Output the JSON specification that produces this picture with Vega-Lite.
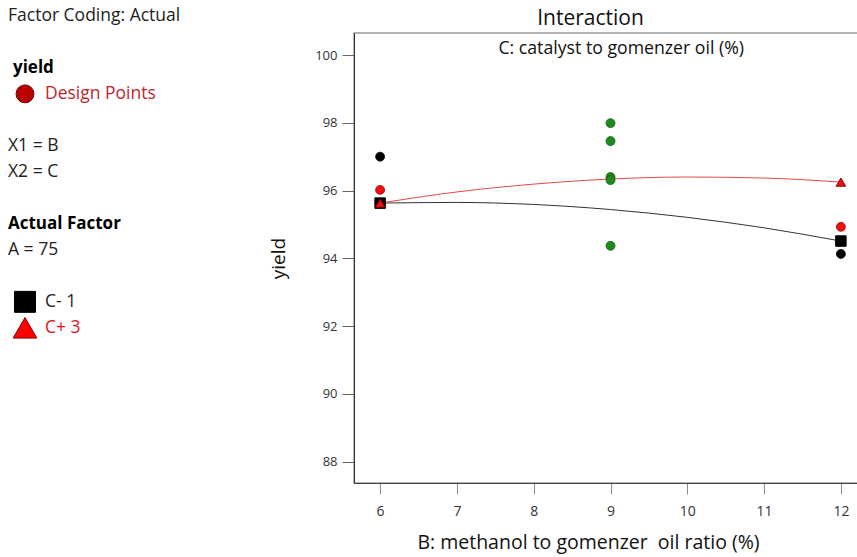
{
  "$schema": "https://vega.github.io/schema/vega-lite/v6.json",
  "padding": {"left": 0, "top": 6, "right": 0, "bottom": 0},
  "background": "white",
  "spacing": 18,
  "config": {
    "font": "Open Sans",
    "view": {"stroke": null},
    "axis": {"grid": false}
  },
  "datasets": {
    "legend": [
      {"line": 0, "col": 0.4, "text": "Factor Coding: Actual", "kind": "plain"},
      {"line": 2, "col": 0.65, "text": "yield", "kind": "bold"},
      {"line": 3, "col": 2.25, "text": "Design Points", "kind": "darkred"},
      {"line": 5, "col": 0.4, "text": "X1 = B", "kind": "plain"},
      {"line": 6, "col": 0.4, "text": "X2 = C", "kind": "plain"},
      {"line": 8, "col": 0.4, "text": "Actual Factor", "kind": "bold"},
      {"line": 9, "col": 0.4, "text": "A = 75", "kind": "plain"},
      {"line": 11, "col": 2.25, "text": "C- 1", "kind": "plain"},
      {"line": 12, "col": 2.25, "text": "C+ 3", "kind": "red"}
    ],
    "legendSymbols": [
      {"line": 3, "col": 1.25, "sym": "circle", "grp": "design"},
      {"line": 11, "col": 1.25, "sym": "square", "grp": "low"},
      {"line": 12, "col": 1.25, "sym": "triangle-up", "grp": "high"}
    ],
    "points": [
      {"B": 6, "yield": 97.0, "grp": "C- 1"},
      {"B": 6, "yield": 96.02, "grp": "C+ 3"},
      {"B": 9, "yield": 97.99, "grp": "center"},
      {"B": 9, "yield": 97.46, "grp": "center"},
      {"B": 9, "yield": 96.4, "grp": "center"},
      {"B": 9, "yield": 96.31, "grp": "center"},
      {"B": 9, "yield": 94.37, "grp": "center"},
      {"B": 12, "yield": 94.93, "grp": "C+ 3"},
      {"B": 12, "yield": 94.13, "grp": "C- 1"}
    ],
    "curves": [
      {"B": 6, "yield": 95.63, "series": "C- 1"},
      {"B": 7, "yield": 95.65, "series": "C- 1"},
      {"B": 8, "yield": 95.59, "series": "C- 1"},
      {"B": 9, "yield": 95.44, "series": "C- 1"},
      {"B": 10, "yield": 95.21, "series": "C- 1"},
      {"B": 11, "yield": 94.9, "series": "C- 1"},
      {"B": 12, "yield": 94.51, "series": "C- 1"},
      {"B": 6, "yield": 95.63, "series": "C+ 3"},
      {"B": 7, "yield": 95.96, "series": "C+ 3"},
      {"B": 8, "yield": 96.19, "series": "C+ 3"},
      {"B": 9, "yield": 96.34, "series": "C+ 3"},
      {"B": 10, "yield": 96.4, "series": "C+ 3"},
      {"B": 11, "yield": 96.37, "series": "C+ 3"},
      {"B": 12, "yield": 96.25, "series": "C+ 3"}
    ],
    "ends": [
      {"B": 6, "yield": 95.63, "series": "C- 1"},
      {"B": 12, "yield": 94.51, "series": "C- 1"},
      {"B": 6, "yield": 95.63, "series": "C+ 3"},
      {"B": 12, "yield": 96.25, "series": "C+ 3"}
    ]
  },
  "hconcat": [
    {
      "width": 250,
      "height": 546,
      "view": {"stroke": null},
      "resolve": {"scale": {"color": "independent", "fill": "independent", "stroke": "independent"}},
      "layer": [
        {
          "data": {"name": "legend"},
          "transform": [{"filter": "datum.kind !== 'bold'"}],
          "mark": {"type": "text", "align": "left", "baseline": "middle", "fontSize": 17.5},
          "encoding": {
            "x": {"field": "col", "type": "quantitative", "scale": {"domain": [0, 12.5], "nice": false, "zero": false}, "axis": null},
            "y": {"field": "line", "type": "quantitative", "scale": {"domain": [0.66, 21.66], "nice": false, "zero": false, "reverse": true}, "axis": null},
            "text": {"field": "text"},
            "color": {"field": "kind", "type": "nominal", "scale": {"domain": ["plain", "darkred", "red"], "range": ["#222222", "#c0262d", "#e8101a"]}, "legend": null}
          }
        },
        {
          "data": {"name": "legend"},
          "transform": [{"filter": "datum.kind === 'bold'"}],
          "mark": {"type": "text", "align": "left", "baseline": "middle", "fontSize": 17, "fontWeight": "bold", "color": "#000000"},
          "encoding": {
            "x": {"field": "col", "type": "quantitative"},
            "y": {"field": "line", "type": "quantitative"},
            "text": {"field": "text"}
          }
        },
        {
          "data": {"name": "legendSymbols"},
          "mark": {"type": "point", "filled": true, "opacity": 1, "strokeWidth": 1},
          "encoding": {
            "x": {"field": "col", "type": "quantitative"},
            "y": {"field": "line", "type": "quantitative"},
            "shape": {"field": "sym", "type": "nominal", "scale": {"domain": ["circle", "square", "triangle-up"], "range": ["circle", "square", "triangle-up"]}, "legend": null},
            "size": {"field": "sym", "type": "nominal", "scale": {"domain": ["circle", "square", "triangle-up"], "range": [320, 560, 520]}, "legend": null},
            "fill": {"field": "grp", "type": "nominal", "scale": {"domain": ["design", "low", "high"], "range": ["#bb0000", "#000000", "#ff0000"]}, "legend": null},
            "stroke": {"field": "grp", "type": "nominal", "scale": {"domain": ["design", "low", "high"], "range": ["#660000", "#000000", "#880000"]}, "legend": null}
          }
        }
      ]
    },
    {
      "width": 513,
      "height": 450,
      "title": {"text": "Interaction", "fontSize": 21, "fontWeight": "normal", "color": "#111", "anchor": "middle", "dx": -20, "offset": 4},
      "view": {"stroke": "#999999", "strokeWidth": 1.5},
      "resolve": {"scale": {"color": "independent", "fill": "independent", "stroke": "independent", "shape": "independent", "size": "independent"}},
      "layer": [
        {
          "data": {"name": "curves"},
          "mark": {"type": "line", "interpolate": "monotone", "strokeWidth": 1},
          "encoding": {
            "x": {"field": "B", "type": "quantitative", "title": "B: methanol to gomenzer\u00a0 oil ratio (%)",
              "scale": {"domain": [5.66, 12.34], "nice": false, "zero": false},
              "axis": {"values": [6, 7, 8, 9, 10, 11, 12], "format": "d", "tickSize": 11, "tickColor": "#888", "domainColor": "#444", "labelFontSize": 14, "labelColor": "#333", "labelPadding": 10, "titleFontSize": 19.5, "titleFontWeight": "normal", "titleColor": "#111", "titlePadding": 15, "titleX": 234}},
            "y": {"field": "yield", "type": "quantitative", "title": "yield",
              "scale": {"domain": [87.37, 100.65], "nice": false, "zero": false},
              "axis": {"values": [88, 90, 92, 94, 96, 98, 100], "tickSize": 12, "tickColor": "#666", "domainColor": "#333", "labelFontSize": 13, "labelColor": "#333", "labelPadding": 5, "titleFontSize": 19, "titleFontWeight": "normal", "titleColor": "#111", "titlePadding": 26}},
            "color": {"field": "series", "type": "nominal", "scale": {"domain": ["C- 1", "C+ 3"], "range": ["#333333", "#e8474a"]}, "legend": null}
          }
        },
        {
          "data": {"name": "points"},
          "mark": {"type": "point", "shape": "circle", "filled": true, "opacity": 1, "size": 80, "strokeWidth": 0.8},
          "encoding": {
            "x": {"field": "B", "type": "quantitative"},
            "y": {"field": "yield", "type": "quantitative"},
            "fill": {"field": "grp", "type": "nominal", "scale": {"domain": ["C- 1", "C+ 3", "center"], "range": ["#000000", "#ee1111", "#1c8c1c"]}, "legend": null},
            "stroke": {"field": "grp", "type": "nominal", "scale": {"domain": ["C- 1", "C+ 3", "center"], "range": ["#000000", "#aa0000", "#0b5e0b"]}, "legend": null}
          }
        },
        {
          "data": {"name": "ends"},
          "mark": {"type": "point", "filled": true, "opacity": 1, "strokeWidth": 1},
          "encoding": {
            "x": {"field": "B", "type": "quantitative"},
            "y": {"field": "yield", "type": "quantitative"},
            "shape": {"field": "series", "type": "nominal", "scale": {"domain": ["C- 1", "C+ 3"], "range": ["square", "triangle-up"]}, "legend": null},
            "size": {"field": "series", "type": "nominal", "scale": {"domain": ["C- 1", "C+ 3"], "range": [110, 90]}, "legend": null},
            "fill": {"field": "series", "type": "nominal", "scale": {"domain": ["C- 1", "C+ 3"], "range": ["#000000", "#ee1111"]}, "legend": null},
            "stroke": {"field": "series", "type": "nominal", "scale": {"domain": ["C- 1", "C+ 3"], "range": ["#000000", "#880000"]}, "legend": null}
          }
        },
        {
          "data": {"values": [{"label": "C: catalyst to gomenzer oil (%)"}]},
          "mark": {"type": "text", "fontSize": 17.7, "color": "#111", "align": "center", "baseline": "middle"},
          "encoding": {
            "x": {"datum": 9.14, "type": "quantitative"},
            "y": {"datum": 100.18, "type": "quantitative"},
            "text": {"field": "label"}
          }
        }
      ]
    }
  ]
}
